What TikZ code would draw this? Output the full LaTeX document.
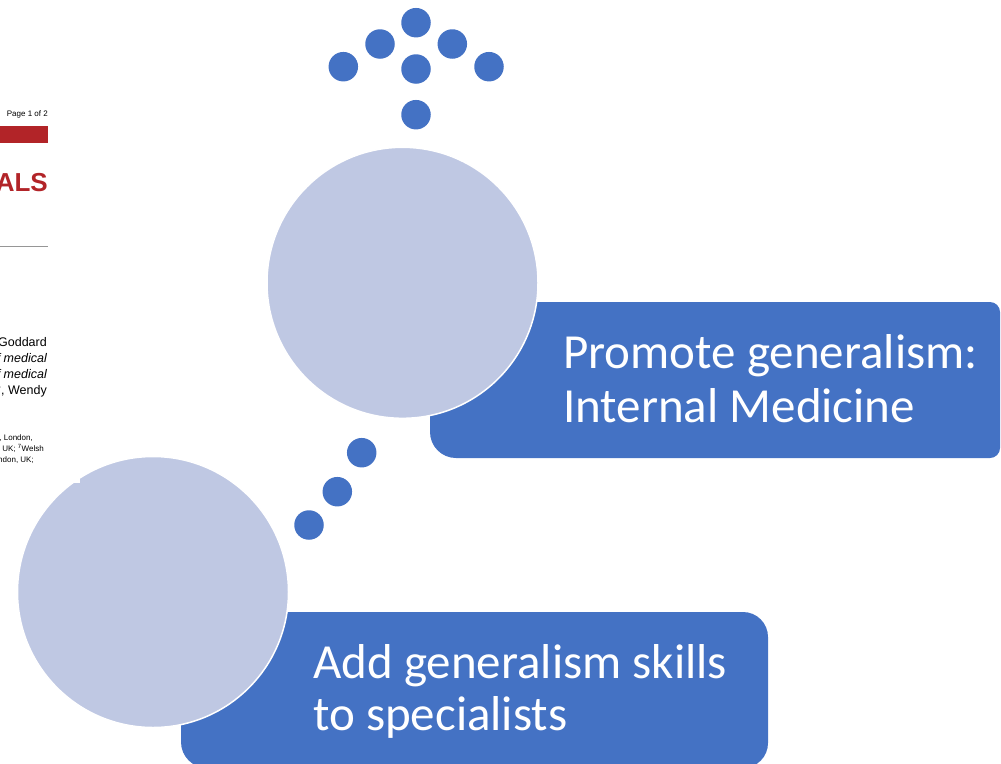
\documentclass[tikz,border=0pt]{standalone}
\usepackage{fontspec}
\setmainfont{Carlito}
\newfontfamily\paperfont{Liberation Sans}
\definecolor{accblue}{RGB}{68,114,196}
\definecolor{lightcirc}{RGB}{191,200,227}
\definecolor{paperred}{RGB}{178,36,40}
\definecolor{papergrey}{RGB}{150,150,150}
\tikzset{
  x=1pt, y=-1pt,
  dotnode/.style={circle, fill=accblue, inner sep=0pt, minimum size=29.5pt},
  bigcirc/.style={circle, fill=lightcirc, draw=white, line width=1.5pt, inner sep=0pt, minimum size=271pt},
  boxfill/.style={fill=accblue},
  boxtext/.style={font=\fontsize{49}{53}\selectfont, text=white, inner sep=0pt, anchor=base west},
  papertxt/.style={font=\paperfont\fontsize{12.5}{14}\selectfont, inner sep=0pt, anchor=base east},
  papersmall/.style={font=\paperfont\fontsize{8}{9}\selectfont, inner sep=0pt, anchor=base east}
}
\begin{document}
\begin{tikzpicture}
\useasboundingbox (0,0) rectangle (1001,763);
% paper fragment on the left
\node[papersmall] (pg) at (48,116) {Page 1 of 2};
\fill[paperred] (0,126) rectangle (48,143);
\node[font=\paperfont\bfseries\fontsize{26}{28}\selectfont, text=paperred, inner sep=0pt, anchor=base east] (als) at (48,191) {ALS};
\draw[papergrey, line width=0.8pt] (0,246) -- (48,246);
\node[papertxt] (p1) at (47,346) {Goddard};
\node[papertxt] (p2) at (47,362) {\itshape f medical};
\node[papertxt] (p3) at (47,378) {\itshape f medical};
\node[papertxt] (p4) at (47,394) {\textsuperscript{5}, Wendy};
\node[papersmall] (s1) at (33,440) {, London,};
\node[papersmall] (s2) at (44,451) {UK; \textsuperscript{7}Welsh};
\node[papersmall] (s3) at (34,462) {ndon, UK;};

% boxes
\fill[boxfill] (430,302) -- (990,302) arc[start angle=-90, end angle=0, radius=10]
  -- (1000,448) arc[start angle=0, end angle=90, radius=10]
  -- (456,458) arc[start angle=90, end angle=180, radius=26] -- cycle;
\fill[boxfill] (181,612) -- (743,612) arc[start angle=-90, end angle=0, radius=25]
  -- (768,743) arc[start angle=0, end angle=90, radius=25]
  -- (207,768) arc[start angle=90, end angle=180, radius=26] -- cycle;

% big circles
\node[bigcirc] (c1) at (402.5,282.8) {};
\node[bigcirc] (c2) at (153,592) {};
\fill[white] (0,467) rectangle (80,483);

% dots
\node[dotnode] (d1) at (416,22.7) {};
\node[dotnode] (d2) at (380,44) {};
\node[dotnode] (d3) at (452.3,44) {};
\node[dotnode] (d4) at (343.3,66.7) {};
\node[dotnode] (d5) at (416,69) {};
\node[dotnode] (d6) at (489,66.7) {};
\node[dotnode] (d7) at (416,114.7) {};
\node[dotnode] (m1) at (361.7,452.7) {};
\node[dotnode] (m2) at (337.3,491.7) {};
\node[dotnode] (m3) at (309,525) {};

% texts
\node[boxtext] (t1a) at (563,368) {Promote generalism:};
\node[boxtext] (t1b) at (563,422) {Internal Medicine};
\node[boxtext] (t2a) at (313,678) {Add generalism skills};
\node[boxtext] (t2b) at (313,730) {to specialists};
\end{tikzpicture}
\end{document}
